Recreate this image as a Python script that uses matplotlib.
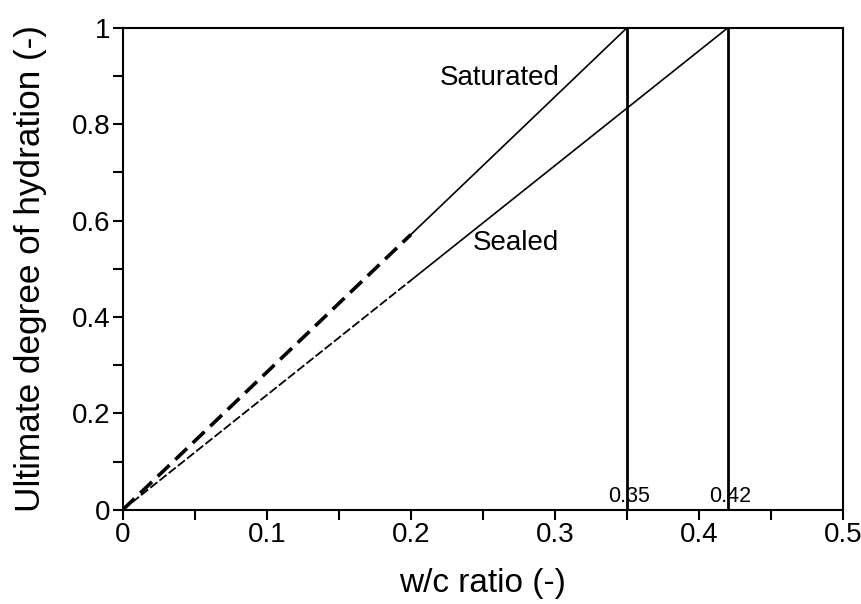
import numpy as np
import matplotlib
matplotlib.use('Agg')
import matplotlib.pyplot as plt
from matplotlib.ticker import MultipleLocator

plt.rcParams['font.family'] = ['Liberation Sans', 'DejaVu Sans']

# w/c ratio and ultimate degree of hydration
wc_low = [0.0, 0.2]
sat_low = [0.0, 0.571]
seal_low = [0.0, 0.476]

wc_sat_high = [0.2, 0.35]
sat_high = [0.571, 1.0]
wc_seal_high = [0.2, 0.42]
seal_high = [0.476, 1.0]

wc_limits = [0.35, 0.42]
limit_labels = ['0.35', '0.42']

fig = plt.figure(figsize=(8.62, 6.04), dpi=100)
ax = fig.add_axes([0.1424, 0.156, 0.8357, 0.798])

ax.plot(wc_low, sat_low, color='black', lw=2.6, ls=(0, (4.5, 2.2)))
ax.plot(wc_low, seal_low, color='black', lw=1.3, ls=(0, (5, 1.5)))
ax.plot(wc_sat_high, sat_high, color='black', lw=1.2)
ax.plot(wc_seal_high, seal_high, color='black', lw=1.2)

for x, lab in zip(wc_limits, limit_labels):
	ax.plot([x, x], [0, 1], color='black', lw=2)
	ax.text(x - 0.013, 0.027, lab, fontsize=15.5, ha='left', va='center')

ax.text(0.2203, 0.896, 'Saturated', fontsize=20, ha='left', va='center')
ax.text(0.243, 0.554, 'Sealed', fontsize=20, ha='left', va='center')

ax.set_xlim(0, 0.5)
ax.set_ylim(0, 1)
ax.xaxis.set_minor_locator(MultipleLocator(0.05))
ax.yaxis.set_minor_locator(MultipleLocator(0.1))
ax.set_xticks(np.arange(0, 0.51, 0.1))
ax.set_xticklabels(['0', '0.1', '0.2', '0.3', '0.4', '0.5'])
ax.set_yticks(np.arange(0, 1.01, 0.2))
ax.set_yticklabels(['0', '0.2', '0.4', '0.6', '0.8', '1'])
ax.tick_params(which='both', direction='out', width=1.5, labelsize=20, pad=2, length=7)
for s in ax.spines.values():
	s.set_linewidth(1.5)

ax.set_xlabel('w/c ratio (-)', fontsize=24, labelpad=14)
ax.set_ylabel('Ultimate degree of hydration (-)', fontsize=25.3, labelpad=18)

plt.savefig('out.png', dpi=100)
